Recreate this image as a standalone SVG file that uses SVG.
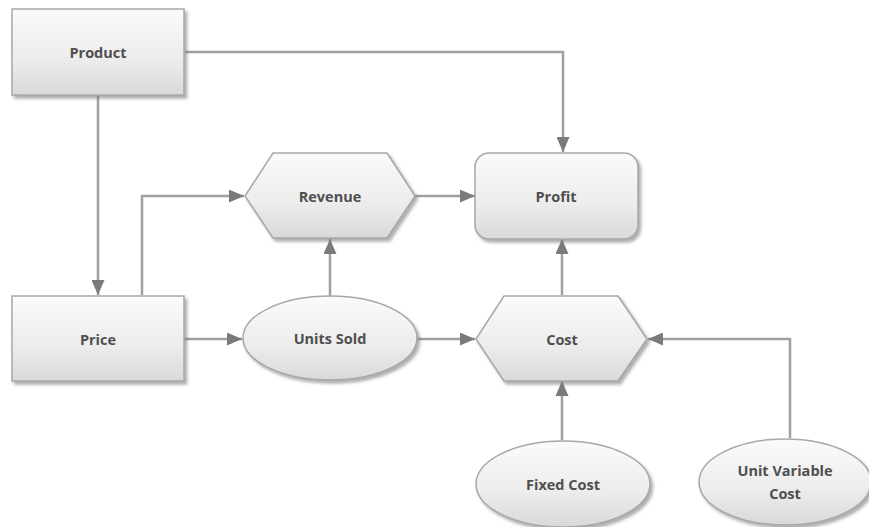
<svg xmlns="http://www.w3.org/2000/svg" width="869" height="527" viewBox="0 0 869 527">
  <defs>
    <linearGradient id="fillGrad" x1="0" y1="0" x2="0" y2="1">
      <stop offset="0" stop-color="#fbfbfb"/>
      <stop offset="0.6" stop-color="#ececec"/>
      <stop offset="1" stop-color="#d9d9d9"/>
    </linearGradient>
    <filter id="shadow" x="-10%" y="-10%" width="125%" height="130%">
      <feDropShadow dx="2.5" dy="3" stdDeviation="1.8" flood-color="#7a7a7a" flood-opacity="0.6"/>
    </filter>
    <marker id="arrow" viewBox="0 0 15 13" refX="15" refY="6.5" markerWidth="15" markerHeight="13" markerUnits="userSpaceOnUse" orient="auto">
      <path d="M0,0 L15,6.5 L0,13 Z" fill="#7a7a7a"/>
    </marker>
    <style>
      .shape { fill: url(#fillGrad); stroke: #a8a8a8; stroke-width: 1.5; filter: url(#shadow); }
      .label { font-family: "Open Sans", "Liberation Sans", sans-serif; font-weight: 700; font-size: 14.5px; fill: #4f4f4f; text-anchor: middle; dominant-baseline: central; }
      .conn { fill: none; stroke: #a0a0a0; stroke-width: 2.5; marker-end: url(#arrow); }
    </style>
  </defs>

  <rect width="869" height="527" fill="#ffffff"/>

  <!-- connectors -->
  <g id="connectors">
    <path class="conn" d="M185,52 H563 V152"/>
    <path class="conn" d="M98,95 V295"/>
    <path class="conn" d="M142,295 V196 H244"/>
    <path class="conn" d="M415,196 H475"/>
    <path class="conn" d="M184,339 H242"/>
    <path class="conn" d="M330,296 V239"/>
    <path class="conn" d="M417,339 H475"/>
    <path class="conn" d="M562,295 V239"/>
    <path class="conn" d="M562,440 V381"/>
    <path class="conn" d="M790,438 V339 H648"/>
  </g>

  <g id="product">
    <rect class="shape" x="12" y="9" width="172" height="86"/>
    <text class="label" x="98" y="52">Product</text>
  </g>

  <g id="revenue">
    <polygon class="shape" points="245,196 273,153 387,153 415,196 387,238 273,238"/>
    <text class="label" x="330" y="196">Revenue</text>
  </g>

  <g id="profit">
    <rect class="shape" x="475" y="153" width="163" height="86" rx="14" ry="14"/>
    <text class="label" x="556" y="196">Profit</text>
  </g>

  <g id="price">
    <rect class="shape" x="12" y="296" width="172" height="85"/>
    <text class="label" x="98" y="339">Price</text>
  </g>

  <g id="units-sold">
    <ellipse class="shape" cx="330" cy="338" rx="87" ry="42"/>
    <text class="label" x="330" y="338">Units Sold</text>
  </g>

  <g id="cost">
    <polygon class="shape" points="476,339 504,296 618,296 647,339 618,381 504,381"/>
    <text class="label" x="562" y="339">Cost</text>
  </g>

  <g id="fixed-cost">
    <ellipse class="shape" cx="563" cy="484" rx="87" ry="43"/>
    <text class="label" x="563" y="484">Fixed Cost</text>
  </g>

  <g id="unit-variable-cost">
    <ellipse class="shape" cx="785" cy="482" rx="86" ry="43"/>
    <text class="label" x="785" y="470">Unit Variable</text>
    <text class="label" x="785" y="493">Cost</text>
  </g>
</svg>
